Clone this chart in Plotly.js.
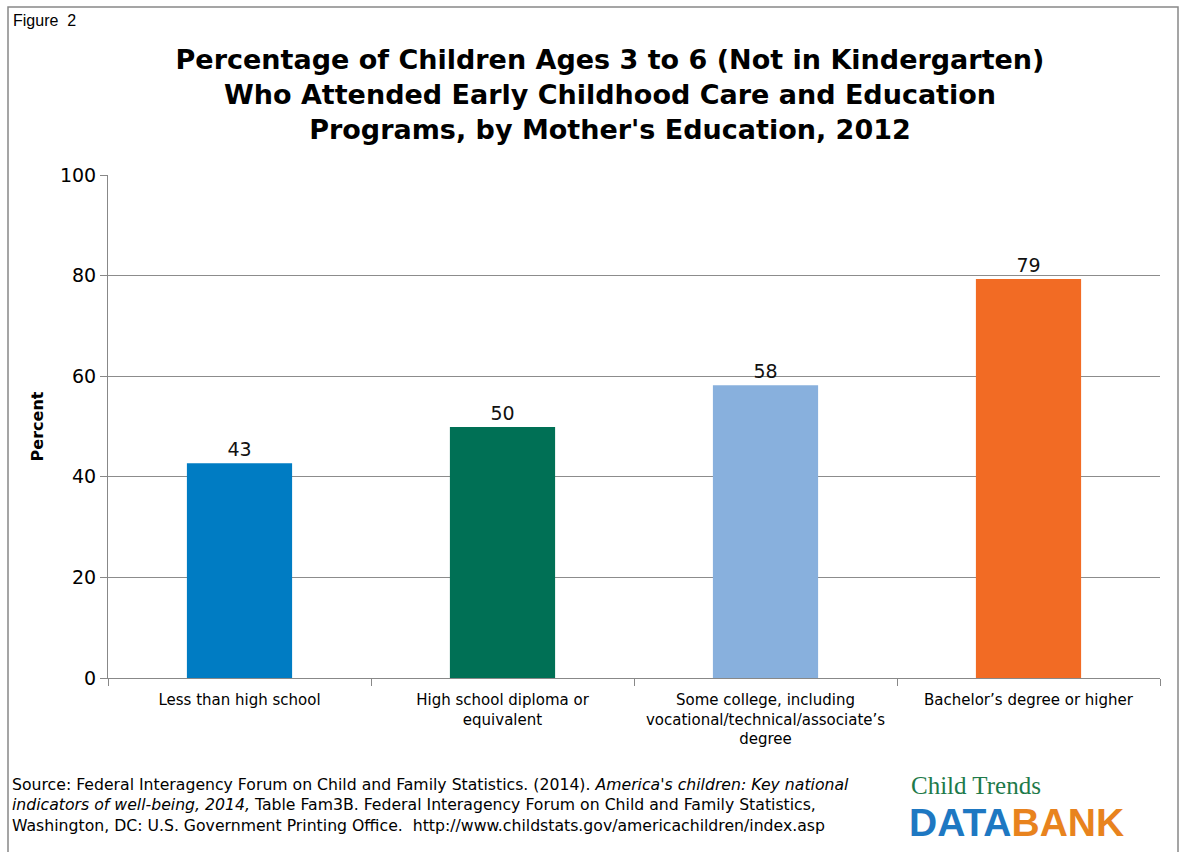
<!DOCTYPE html>
<html>
<head>
<meta charset="utf-8">
<script src="https://cdn.plot.ly/plotly-3.0.1.min.js"></script>
<style>
html,body{margin:0;padding:0;background:#fff;}
#chart{width:1181px;height:852px;}
</style>
</head>
<body>
<div id="chart"></div>
<script>
const categories = [
  "Less than high school",
  "High school diploma or<br>equivalent",
  "Some college, including<br>vocational/technical/associate\u2019s<br>degree",
  "Bachelor\u2019s degree or higher"
];
const values = [42.7, 49.9, 58.2, 79.3];
const labels = ["43", "50", "58", "79"];
const barColors = ["#007CC3", "#007055", "#88B0DD", "#F26B24"];
const yTicks = [0, 20, 40, 60, 80, 100];

const W = 1181, H = 852;
const L = 108, R = 21, T = 175, B = 174;
const pw = W - L - R, ph = H - T - B;
const px = x => (x - L) / pw;
const py = y => (H - B - y) / ph;

const trace = {
  type: "bar",
  x: categories,
  y: values,
  text: labels,
  textposition: "outside",
  cliponaxis: false,
  textfont: {family: "DejaVu Sans", size: 19, color: "#111"},
  marker: {color: barColors, line: {width: 0}},
  width: 0.4,
  hoverinfo: "skip"
};

const layout = {
  width: W, height: H,
  margin: {l: L, r: R, t: T, b: B},
  paper_bgcolor: "#fff", plot_bgcolor: "#fff",
  showlegend: false,
  font: {family: "DejaVu Sans", color: "#000"},
  title: {
    text: "Percentage of Children Ages 3 to 6 (Not in Kindergarten)<br>Who Attended Early Childhood Care and Education<br>Programs, by Mother's Education, 2012",
    font: {family: "DejaVu Sans", size: 27, weight: "bold", color: "#000"},
    x: 610 / W, xanchor: "center", xref: "container",
    y: 1 - 69 / H, yanchor: "top", yref: "container"
  },
  xaxis: {
    type: "category",
    tickson: "boundaries",
    ticks: "outside", ticklen: 7, tickcolor: "#888",
    ticklabelstandoff: 8,
    showline: true, linecolor: "#888", linewidth: 1,
    showgrid: false,
    tickfont: {family: "DejaVu Sans", size: 15, color: "#000"},
    fixedrange: true
  },
  yaxis: {
    range: [0, 100],
    tickvals: yTicks,
    ticks: "outside", ticklen: 7, tickcolor: "#888",
    showline: true, linecolor: "#888", linewidth: 1,
    showgrid: true, gridcolor: "#8c8c8c", gridwidth: 1,
    zeroline: false,
    tickfont: {family: "DejaVu Sans", size: 19, color: "#000"},
    title: {text: "Percent", font: {family: "DejaVu Sans", size: 16, weight: "bold", color: "#000"}, standoff: 12},
    fixedrange: true
  },
  shapes: [
    {type: "rect", xref: "paper", yref: "paper", x0: px(8), x1: px(1178), y0: py(7), y1: py(860),
     line: {color: "#888", width: 1.5}, fillcolor: "rgba(0,0,0,0)", layer: "below"}
  ],
  annotations: [
    {xref: "paper", yref: "paper", x: px(11), y: py(10), xanchor: "left", yanchor: "top",
     text: "Figure  2", showarrow: false, font: {family: "Liberation Sans", size: 16, color: "#000"}},
    {xref: "paper", yref: "paper", x: px(10), y: py(773), xanchor: "left", yanchor: "top", align: "left",
     text: "Source: Federal Interagency Forum on Child and Family Statistics. (2014). <i>America's children: Key national</i><br><i>indicators of well-being, 2014,</i> Table Fam3B. Federal Interagency Forum on Child and Family Statistics,<br>Washington, DC: U.S. Government Printing Office.  http://www.childstats.gov/americachildren/index.asp",
     showarrow: false, font: {family: "DejaVu Sans", size: 15.7, color: "#000"}},
    {xref: "paper", yref: "paper", x: px(910), y: py(800), xanchor: "left", yanchor: "bottom", borderpad: 0,
     text: "Child Trends", showarrow: false, font: {family: "Liberation Serif", size: 25, color: "#1E7A4A"}},
    {xref: "paper", yref: "paper", x: px(908), y: py(800), xanchor: "left", yanchor: "top", borderpad: 0,
     text: "<b><span style='color:#1E78C2'>DATA</span><span style='color:#E8831E'>BANK</span></b>", showarrow: false,
     font: {family: "Liberation Sans", size: 39, color: "#1E78C2"}}
  ]
};

Plotly.newPlot("chart", [trace], layout, {displayModeBar: false, staticPlot: true});
</script>
</body>
</html>
